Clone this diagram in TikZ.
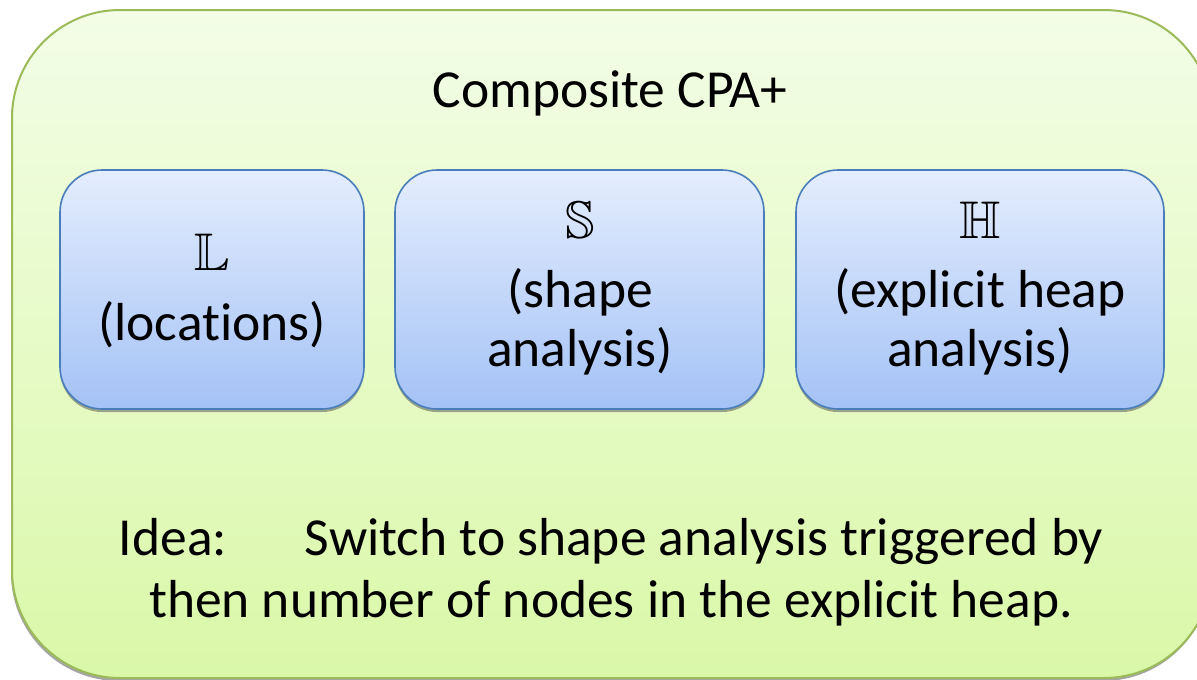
\documentclass[tikz,border=0pt]{standalone}
\usepackage{fontspec}
\setmainfont{Carlito}[Ligatures=NoCommon]
\usetikzlibrary{shadows}
% double-struck capitals for the analysis names
\font\bbfont=msbm10 at 53pt

\definecolor{frameGreen}{RGB}{155,187,89}
\definecolor{paleGreenTop}{RGB}{243,253,231}
\definecolor{paleGreenBot}{RGB}{218,248,168}
\definecolor{frameBlue}{RGB}{74,126,187}
\definecolor{paleBlueTop}{RGB}{228,237,253}
\definecolor{paleBlueBot}{RGB}{164,194,246}

\tikzset{
  container/.style={draw=frameGreen, line width=2pt, rounded corners=108pt,
    top color=paleGreenTop, bottom color=paleGreenBot,
    inner sep=0pt, outer sep=0pt,
    general shadow={shadow yshift=-3pt, shadow xshift=-1pt, fill=black!70, opacity=.5}},
  analysis/.style={draw=frameBlue, line width=1.6pt, rounded corners=42pt,
    top color=paleBlueTop, bottom color=paleBlueBot,
    inner sep=0pt, outer sep=0pt, minimum height=239pt,
    general shadow={shadow yshift=-3pt, fill=black!70, opacity=.5}},
  words/.style={inner sep=0pt, outer sep=0pt, anchor=base,
    font=\fontsize{53.5}{60}\selectfont},
  bbsym/.style={inner sep=0pt, outer sep=0pt, anchor=base, font=\bbfont}
}

\begin{document}
\begin{tikzpicture}[x=1pt,y=-1pt]
\useasboundingbox (0,0) rectangle (1197,680);
\clip (0,0) rectangle (1197,680);

% outer container
\node[container, minimum width=1200pt, minimum height=668pt] (cpa) at (612,344) {};
\node[words] (title) at (610,107) {Composite CPA+};

% the three component analyses
\node[analysis, minimum width=304pt] (locs)  at (212,289.5) {};
\node[analysis, minimum width=369pt] (shape) at (579.5,289.5) {};
\node[analysis, minimum width=368pt] (heap)  at (980,289.5) {};

\node[bbsym] (locsym) at (212,270) {L};
\node[words] (locs1) at (212,340) {(locations)};

\node[bbsym] (shapesym) at (580,238) {S};
\node[words] (shape1) at (580,307) {(shape};
\node[words] (shape2) at (580,366) {analysis)};

\node[bbsym] (heapsym) at (980,238) {H};
\node[words] (heap1) at (980,307) {(explicit heap};
\node[words] (heap2) at (980,366) {analysis)};

% idea statement
\node[words] (idea1) at (611,555) {Idea:\hspace{78pt}Switch to shape analysis triggered by};
\node[words] (idea2) at (611,617) {then number of nodes in the explicit heap.};
\end{tikzpicture}
\end{document}
